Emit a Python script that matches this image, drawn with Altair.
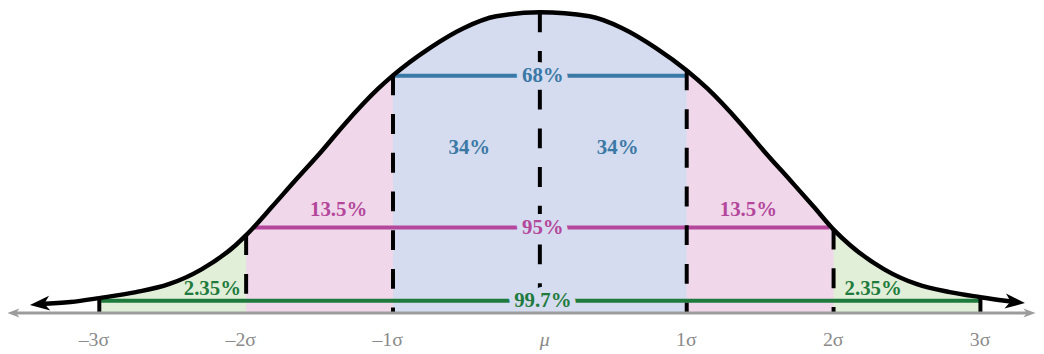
import altair as alt
import pandas as pd

# ---------------- data ----------------
# bell curve: position in sigma units, height in % of the peak
CURVE_Z = [-3.405, -3.196, -3.00, -2.750, -2.527, -2.304, -2.074, -2.00, -1.824, -1.669,
           -1.486, -1.331, -1.101, -1.00, -0.750, -0.520, -0.297, 0.00, 0.338, 0.561,
           0.791, 1.00, 1.142, 1.372, 1.527, 1.709, 1.865, 2.00, 2.115, 2.345,
           2.568, 2.791, 3.00, 3.155, 3.236]
CURVE_H = [2.97, 3.63, 4.95, 6.93, 9.57, 14.52, 22.44, 25.87, 35.31, 43.89,
           53.80, 62.71, 74.59, 79.01, 88.12, 94.72, 98.68, 100.0, 98.68, 94.72,
           88.12, 80.66, 74.59, 62.71, 53.80, 43.89, 35.31, 27.72, 22.44, 14.52,
           9.57, 6.93, 5.25, 4.13, 3.63]

SIGMA_TICKS = [-3, -2, -1, 0, 1, 2, 3]
TICK_LABELS = ["–3σ", "–2σ", "–1σ", "μ", "1σ", "2σ", "3σ"]

BAND_KEYS = ["1σ", "2σ", "3σ"]
BAND_LABELS = ["68%", "95%", "99.7%"]
BAND_FROM = [-1.0, -1.95, -3.0]
BAND_TO = [1.0, 1.97, 3.0]
BAND_LEVEL = [78.9, 28.4, 4.1]
BAND_HALF_WIDTH = [1, 2, 3]

REGION_KEYS = ["1σ", "1σ", "2σ", "2σ", "3σ", "3σ"]
REGION_LABELS = ["34%", "34%", "13.5%", "13.5%", "2.35%", "2.35%"]
REGION_Z = [-0.48, 0.53, -1.37, 1.42, -2.23, 2.27]
REGION_LEVEL = [54.8, 54.8, 34.2, 34.2, 7.8, 7.9]

AXIS_EXTENT = [-3.585, 3.334]

# ---------------- styles ----------------
LINE_COLORS = ["#3a78a6", "#b4479c", "#1f7b3d"]
FILL_COLORS = ["#d5dcef", "#f0d8ea", "#e1eed8"]
GRAY = "#9c9c9c"
LABEL_GRAY = "#8a8a8a"
FONT = "Liberation Serif"
ARROW = "M-1,0L1,-0.75L0.45,0L1,0.75Z"

xs = alt.Scale(domain=[-3.6216, 3.3784], nice=False, zero=False)
ys = alt.Scale(domain=[-12.54, 100.99], nice=False, zero=False)


def X(f):
    return alt.X(f, type="quantitative", scale=xs, axis=None)


def Y(f):
    return alt.Y(f, type="quantitative", scale=ys, axis=None)


key_color = alt.Color("key:N", scale=alt.Scale(domain=BAND_KEYS, range=LINE_COLORS), legend=None)

curve = pd.DataFrame({"z": CURVE_Z, "h": CURVE_H})
curve["base"] = 0.0
top_of = dict(zip(CURVE_Z, CURVE_H))
verticals = pd.DataFrame({"z": SIGMA_TICKS, "top": [top_of[s] for s in SIGMA_TICKS]})
verticals["base"] = 0.0

bands = pd.DataFrame({"key": BAND_KEYS, "label": BAND_LABELS, "z0": BAND_FROM,
                      "z1": BAND_TO, "level": BAND_LEVEL})
bands["mid"] = float(SIGMA_TICKS[3])
regions = pd.DataFrame({"key": REGION_KEYS, "label": REGION_LABELS,
                        "z": REGION_Z, "level": REGION_LEVEL})
ticks = pd.DataFrame({"z": SIGMA_TICKS, "label": TICK_LABELS})
axis_df = pd.DataFrame({"a": [AXIS_EXTENT[0]], "b": [AXIS_EXTENT[1]], "base": [0.0]})
left_end = pd.DataFrame({"z": [CURVE_Z[0]], "h": [CURVE_H[0]]})
right_end = pd.DataFrame({"z": [CURVE_Z[-1]], "h": [CURVE_H[-1]]})
axis_left = pd.DataFrame({"z": [AXIS_EXTENT[0]], "h": [0.0]})
axis_right = pd.DataFrame({"z": [AXIS_EXTENT[1]], "h": [0.0]})

layers = []
# shaded regions (widest first)
for half, col in zip(sorted(BAND_HALF_WIDTH, reverse=True), FILL_COLORS[::-1]):
    layers.append(
        alt.Chart(curve).transform_filter(f"abs(datum.z) <= {half}")
        .mark_area(color=col, opacity=1, interpolate="monotone")
        .encode(x=X("z"), y=Y("h"), y2=alt.Y2("base"))
    )

# coloured band lines
layers.append(alt.Chart(bands).mark_rule(strokeWidth=4)
              .encode(x=X("z0"), x2="z1", y=Y("level"), color=key_color))

# dashed sigma lines
layers.append(alt.Chart(verticals).mark_rule(color="black", strokeWidth=4,
                                             strokeDash=[20, 19], strokeCap="butt")
              .encode(x=X("z"), y=Y("top"), y2=alt.Y2("base")))

# band labels with halo
layers.append(alt.Chart(bands).mark_text(font=FONT, fontSize=21, fontWeight="bold",
                                         align="center", baseline="middle", dx=3,
                                         color=FILL_COLORS[0], stroke=FILL_COLORS[0],
                                         strokeWidth=12, strokeJoin="round")
              .encode(x=X("mid"), y=Y("level"), text="label"))
layers.append(alt.Chart(bands).mark_text(font=FONT, fontSize=21, fontWeight="bold",
                                         align="center", baseline="middle", dx=3)
              .encode(x=X("mid"), y=Y("level"), text="label", color=key_color))

# region labels
layers.append(alt.Chart(regions).mark_text(font=FONT, fontSize=21, fontWeight="bold",
                                           align="center", baseline="middle")
              .encode(x=X("z"), y=Y("level"), text="label", color=key_color))

# gray horizontal axis with arrowheads
layers.append(alt.Chart(axis_df).mark_rule(color=GRAY, strokeWidth=3)
              .encode(x=X("a"), x2="b", y=Y("base")))
layers.append(alt.Chart(axis_left).mark_point(shape=ARROW, filled=True, size=150, color=GRAY,
                                              opacity=1, strokeWidth=0, angle=0)
              .encode(x=X("z"), y=Y("h")))
layers.append(alt.Chart(axis_right).mark_point(shape=ARROW, filled=True, size=150, color=GRAY,
                                               opacity=1, strokeWidth=0, angle=180)
              .encode(x=X("z"), y=Y("h")))

# the bell curve with arrowheads
layers.append(alt.Chart(curve).mark_line(color="black", strokeWidth=4.5, interpolate="monotone")
              .encode(x=X("z"), y=Y("h")))
layers.append(alt.Chart(left_end).mark_point(shape=ARROW, filled=True, size=400, color="black",
                                             opacity=1, strokeWidth=0, angle=355)
              .encode(x=X("z"), y=Y("h")))
layers.append(alt.Chart(right_end).mark_point(shape=ARROW, filled=True, size=400, color="black",
                                              opacity=1, strokeWidth=0, angle=186)
              .encode(x=X("z"), y=Y("h")))

# tick labels
layers.append(alt.Chart(ticks).transform_filter("datum.label != 'μ'")
              .mark_text(font=FONT, fontSize=20, color=LABEL_GRAY, align="right",
                         baseline="middle", dx=10)
              .encode(x=X("z"), y=alt.value(333.5), text="label"))
layers.append(alt.Chart(ticks).transform_filter("datum.label == 'μ'")
              .mark_text(font=FONT, fontSize=20, fontStyle="italic", color=LABEL_GRAY,
                         align="right", baseline="middle", dx=10)
              .encode(x=X("z"), y=alt.value(333.5), text="label"))

chart = (
    alt.layer(*layers)
    .properties(width=1036, height=344, padding=0,
                autosize=alt.AutoSizeParams(type="none"), background="white")
    .configure_view(stroke=None)
)

chart.save("out.html", embed_options={"renderer": "svg", "actions": False})
